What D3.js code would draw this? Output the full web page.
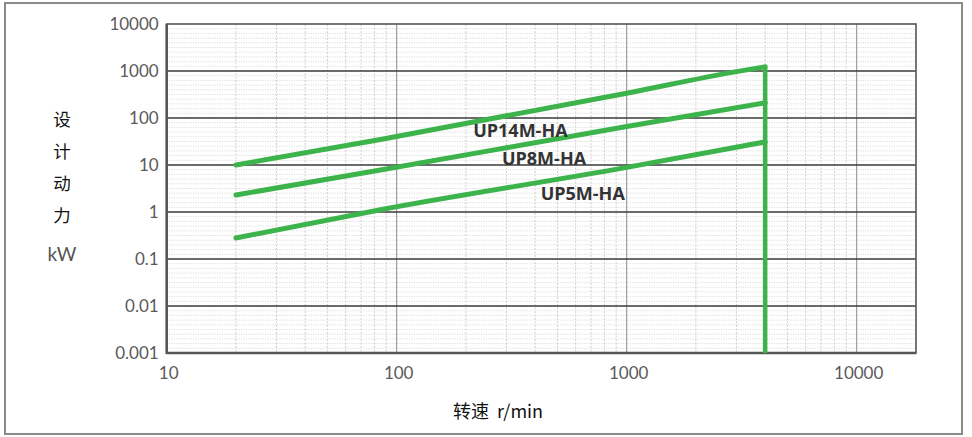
<!DOCTYPE html>
<html><head><meta charset="utf-8">
<script src="https://cdn.jsdelivr.net/npm/d3@7"></script>
<style>
html,body{margin:0;padding:0;background:#fff;}
svg{display:block;}
</style></head>
<body><svg id="c" width="972" height="437"></svg>
<script>
// ---- data ----
const xTickValues = [10, 100, 1000, 10000];
const xTickLabels = ["10", "100", "1000", "10000"];
const yTickValues = [0.001, 0.01, 0.1, 1, 10, 100, 1000, 10000];
const yTickLabels = ["0.001", "0.01", "0.1", "1", "10", "100", "1000", "10000"];
const seriesNames = ["UP14M-HA", "UP8M-HA", "UP5M-HA"];
const up14Speed = [20, 85, 1000, 3000, 4000];
const up14Power = [10, 35, 337, 970, 1230];
const up8Speed = [20, 85, 1000, 4000];
const up8Power = [2.3, 7.8, 66, 211];
const up5Speed = [20, 85, 1000, 4000];
const up5Power = [0.28, 1.12, 8.9, 31];
const cutoffSpeed = [4000, 4000];
const cutoffPower = [1230, 0.001];
const labelSpeed = [345, 437, 644];
const labelPower = [55.5, 13.9, 2.58];
const yTitleChars = ["设", "计", "动", "力"];
const yUnit = "kW";
const xTitle = "转速  r/min";

const svg = d3.select("#c");
const L = 166.7, R = 916, T = 24, B = 353;
const x = d3.scaleLog().domain([10, Math.pow(10, 1 + (R - L) / 230)]).range([L, R]);
const y = d3.scaleLog().domain([0.001, 10000]).range([B, T]);

// outer frame
svg.append("rect").attr("x", 5).attr("y", 3).attr("width", 957).attr("height", 431)
  .attr("fill", "none").attr("stroke", "#8a8a8a").attr("stroke-width", 2);

const g = svg.append("g");
// fine horizontal texture lines (10 per decade)
const hFine = [];
for (let k = -3; k < 4; k++) for (let i = 1; i < 10; i++) hFine.push(Math.pow(10, k + i / 10));
g.selectAll("line.hf").data(hFine).enter().append("line")
  .attr("x1", L).attr("x2", R).attr("y1", d => y(d)).attr("y2", d => y(d))
  .attr("stroke", "#d4d4d4").attr("stroke-width", 0.8).attr("stroke-dasharray", "1.2,1.2");
// vertical minor lines
const vMinor = [];
const xMax = x.domain()[1];
for (let k = 1; k < 5; k++) for (let m = 2; m < 10; m++) { const v = m * Math.pow(10, k); if (v < xMax) vMinor.push(v); }
g.selectAll("line.vm").data(vMinor).enter().append("line")
  .attr("x1", d => x(d)).attr("x2", d => x(d)).attr("y1", T).attr("y2", B)
  .attr("stroke", "#cfcfcf").attr("stroke-width", 1).attr("stroke-dasharray", "2,1.5");
// vertical major
g.selectAll("line.vM").data(xTickValues.slice(1)).enter().append("line")
  .attr("x1", d => x(d)).attr("x2", d => x(d)).attr("y1", T).attr("y2", B)
  .attr("stroke", "#8c8c8c").attr("stroke-width", 1);
// horizontal major
g.selectAll("line.hM").data(yTickValues.slice(1, -1)).enter().append("line")
  .attr("x1", L).attr("x2", R).attr("y1", d => y(d)).attr("y2", d => y(d))
  .attr("stroke", "#3a3a3a").attr("stroke-width", 1.6);
// plot box
svg.append("rect").attr("x", L).attr("y", T).attr("width", R - L).attr("height", B - T)
  .attr("fill", "none").attr("stroke", "#555").attr("stroke-width", 1.6);
svg.append("line").attr("x1", L).attr("x2", L).attr("y1", T).attr("y2", B + 1)
  .attr("stroke", "#555").attr("stroke-width", 2.5);
svg.append("line").attr("x1", L).attr("x2", R).attr("y1", B).attr("y2", B)
  .attr("stroke", "#555").attr("stroke-width", 2.5);

// axes labels via d3 axes
const fontTicks = "'Century Gothic','Lato','Open Sans',sans-serif";
const yAxis = d3.axisLeft(y).tickValues(yTickValues).tickFormat((d, i) => yTickLabels[i]).tickSize(0).tickPadding(8);
const ya = svg.append("g").attr("transform", `translate(${L},0)`).call(yAxis);
ya.select(".domain").remove();
ya.selectAll("text").attr("font-family", fontTicks).attr("font-size", 17).attr("fill", "#5a5a5a");
const xAxis = d3.axisBottom(x).tickValues(xTickValues).tickFormat((d, i) => xTickLabels[i]).tickSize(0).tickPadding(14);
const xa = svg.append("g").attr("transform", `translate(${1.5},${B})`).call(xAxis);
xa.select(".domain").remove();
xa.selectAll("text").attr("font-family", fontTicks).attr("font-size", 17).attr("fill", "#5a5a5a");

// curves
const green = "#3cb44b";
const line = d3.line().x(d => x(d[0])).y(d => y(d[1])).curve(d3.curveMonotoneX);
const series = [
  d3.zip(up14Speed, up14Power),
  d3.zip(up8Speed, up8Power),
  d3.zip(up5Speed, up5Power)
];
svg.append("g").selectAll("path").data(series).enter().append("path")
  .attr("d", line).attr("fill", "none").attr("stroke", green)
  .attr("stroke-width", 5).attr("stroke-linecap", "round");
svg.append("path").datum(d3.zip(cutoffSpeed, cutoffPower))
  .attr("d", d3.line().x(d => x(d[0])).y(d => y(d[1])))
  .attr("fill", "none").attr("stroke", green).attr("stroke-width", 4.5);

// series labels
svg.append("g").selectAll("text").data(seriesNames).enter().append("text")
  .attr("x", (d, i) => x(labelSpeed[i])).attr("y", (d, i) => y(labelPower[i]))
  .attr("text-anchor", "middle").attr("dominant-baseline", "central")
  .attr("font-family", "'Open Sans',sans-serif").attr("font-weight", "bold")
  .attr("font-size", 18).attr("fill", "#333").text(d => d);

// y title
const yt = svg.append("g");
yt.selectAll("text").data(yTitleChars).enter().append("text")
  .attr("x", 62).attr("y", (d, i) => 118 + i * 32)
  .attr("text-anchor", "middle").attr("dominant-baseline", "central")
  .attr("font-family", "'Noto Sans CJK SC',sans-serif").attr("font-size", 17.5).attr("fill", "#111").text(d => d);
svg.append("text").attr("x", 62).attr("y", 253).attr("text-anchor", "middle").attr("dominant-baseline", "central")
  .attr("font-family", fontTicks).attr("font-size", 19).attr("fill", "#555").text(yUnit);

// x title
svg.append("text").attr("x", 498).attr("y", 410).attr("text-anchor", "middle").attr("dominant-baseline", "central")
  .attr("font-family", "'Noto Sans CJK SC',sans-serif").attr("font-size", 18).attr("fill", "#111")
  .attr("xml:space", "preserve").style("white-space", "pre").text(xTitle);
</script></body></html>
